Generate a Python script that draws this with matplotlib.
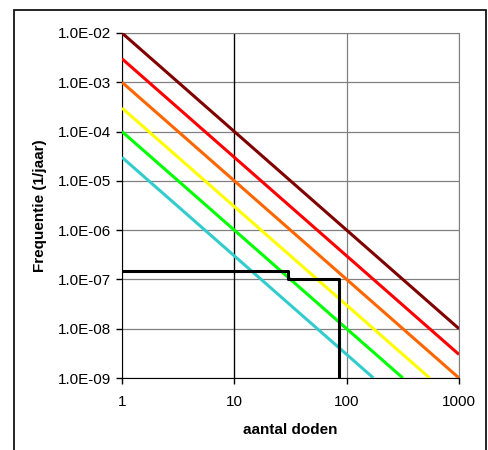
import numpy as np
import matplotlib.pyplot as plt
from matplotlib.patches import Rectangle
from matplotlib.ticker import FixedLocator, FuncFormatter, NullLocator

plt.rcParams['font.family'] = ['Liberation Sans', 'DejaVu Sans']

# FN-lijnen: frequentie bij 1 dode, helling -2
start_freq = [1e-2, 3e-3, 1e-3, 3e-4, 1e-4, 3e-5]
line_colors = ['#800000', '#FF0000', '#FF6600', '#FFFF00', '#00FF00', '#33CCCC']

# trapvormige curve
step_x = [1, 30, 30, 85, 85]
step_y = [1.5e-7, 1.5e-7, 1e-7, 1e-7, 1e-9]

x_ticks = [1, 10, 100, 1000]
y_ticks = [1e-9, 1e-8, 1e-7, 1e-6, 1e-5, 1e-4, 1e-3, 1e-2]

fig = plt.figure(figsize=(4.88, 4.5), dpi=100)
ax = fig.add_axes([0.25, 0.16, 0.6906, 0.7667])

for f0, c in zip(start_freq, line_colors):
    n_end = min(1000.0, np.sqrt(f0 / 1e-9))
    n = np.array([1.0, n_end])
    ax.plot(n, f0 / n**2, color=c, linewidth=2.2, solid_capstyle='butt', zorder=3)

ax.plot(step_x, step_y, color='black', linewidth=2.2, zorder=4)

ax.set_xscale('log')
ax.set_yscale('log')
ax.set_xlim(1, 1000)
ax.set_ylim(1e-9, 1e-2)
ax.xaxis.set_major_locator(FixedLocator(x_ticks))
ax.yaxis.set_major_locator(FixedLocator(y_ticks))
ax.xaxis.set_minor_locator(NullLocator())
ax.yaxis.set_minor_locator(NullLocator())
ax.xaxis.set_major_formatter(FuncFormatter(lambda v, p: '%d' % v))
ax.yaxis.set_major_formatter(FuncFormatter(lambda v, p: '%.1E' % v))
ax.grid(True, color='#808080', linewidth=0.9)
ax.axvline(10, color='black', linewidth=0.9, zorder=1)
ax.set_axisbelow(True)
ax.tick_params(direction='out', length=4, width=1, labelsize=11)
ax.tick_params(axis='x', pad=8)
ax.tick_params(axis='y', pad=4)

ax.spines['left'].set_color('black')
ax.spines['bottom'].set_color('black')
ax.spines['top'].set_color('#808080')
ax.spines['right'].set_color('#808080')

ax.set_xlabel('aantal doden', fontsize=11, fontweight='bold', labelpad=10)
ax.set_ylabel('Frequentie (1/jaar)', fontsize=11, fontweight='bold', labelpad=8)

fig.patches.append(Rectangle((14 / 488, -0.05), 472 / 488, 1.05 - 10 / 450,
                             transform=fig.transFigure, fill=False,
                             edgecolor='black', linewidth=1.2))

fig.savefig('out.png', dpi=100)
